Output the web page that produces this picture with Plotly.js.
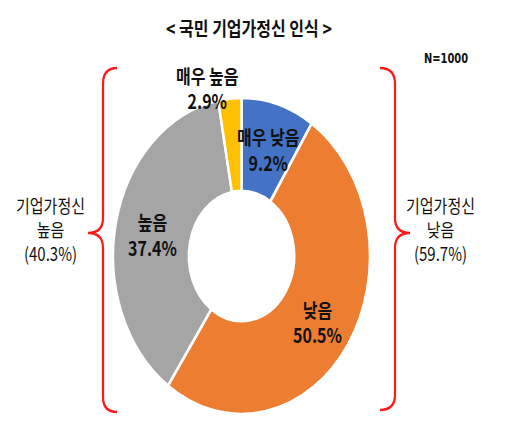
<!DOCTYPE html>
<html>
<head>
<meta charset="utf-8">
<script src="https://cdn.plot.ly/plotly-3.0.1.min.js"></script>
<style>
html, body { margin: 0; padding: 0; background: #fff; width: 506px; height: 437px; }
#wrap { width: 506px; height: 437px; overflow: hidden; position: relative; }
#chart { width: 506px; height: 355px; transform: scaleY(1.231); transform-origin: 0 0; position: absolute; left: 0; top: 0; }
</style>
</head>
<body>
<div id="wrap"><div id="chart"></div></div>
<script>
// ---- data ----
const categories = ["매우 낮음", "낮음", "높음", "매우 높음"];
const values = [9.2, 50.5, 37.4, 2.9];
const colors = ["#4472C4", "#ED7D31", "#A5A5A5", "#FFC000"];
const titleText = "< 국민 기업가정신 인식 >";
const sampleText = "N=1000";
const groupLabels = ["기업가정신", "기업가정신"];
const groupNames = ["높음", "낮음"];
const groupValues = [40.3, 59.7];

// ---- layout helpers (pixel -> paper, unstretched) ----
const W = 506, H = 355, S = 1.231;
const px = x => x / W;
const py = y => 1 - (y / S) / H;

const font = "'Noto Sans CJK KR', 'Noto Sans', sans-serif";

// label centres for slices in reference px
const slicePos = [[268, 150], [317, 322], [152, 235], [207, 88]];

const annotations = [];
categories.forEach((c, i) => {
  const p = slicePos[i];
  annotations.push({xref: 'paper', yref: 'paper', x: px(p[0]), y: py(p[1]),
    text: '<b>' + c + '<br>' + values[i].toFixed(1) + '%</b>',
    showarrow: false, xanchor: 'center', yanchor: 'middle', borderpad: 0,
    font: {family: font, size: 16, color: '#111'}});
});
const groupX = [50, 440];
groupLabels.forEach((g, i) => {
  annotations.push({xref: 'paper', yref: 'paper', x: px(groupX[i]), y: py(229),
    text: g + '<br>' + groupNames[i] + '<br>(' + groupValues[i].toFixed(1) + '%)',
    showarrow: false, xanchor: 'center', yanchor: 'middle', borderpad: 0,
    font: {family: font, size: 15, color: '#111'}});
});
annotations.push({xref: 'paper', yref: 'paper', x: px(249), y: py(27), text: '<b>' + titleText + '</b>',
  showarrow: false, xanchor: 'center', yanchor: 'middle', font: {family: font, size: 16, color: '#111'}});
annotations.push({xref: 'paper', yref: 'paper', x: px(446), y: py(59), text: '<b>' + sampleText + '</b>',
  showarrow: false, xanchor: 'center', yanchor: 'middle', font: {family: "'DejaVu Sans Condensed', 'DejaVu Sans', sans-serif", size: 11, color: '#111'}});

function P(x, y) { return px(x).toFixed(5) + ',' + py(y).toFixed(5); }
const leftBrace = 'M' + P(117, 68) + ' Q' + P(103, 68) + ' ' + P(103, 84) + ' L' + P(103, 218) +
  ' Q' + P(103, 233) + ' ' + P(88, 233) + ' Q' + P(103, 233) + ' ' + P(103, 248) +
  ' L' + P(103, 397) + ' Q' + P(103, 412) + ' ' + P(117, 412);
const rightBrace = 'M' + P(380, 68) + ' Q' + P(395, 68) + ' ' + P(395, 84) + ' L' + P(395, 218) +
  ' Q' + P(395, 233) + ' ' + P(410, 233) + ' Q' + P(395, 233) + ' ' + P(395, 248) +
  ' L' + P(395, 395) + ' Q' + P(395, 410) + ' ' + P(380, 410);

const shapes = [leftBrace, rightBrace].map(p => ({
  type: 'path', xref: 'paper', yref: 'paper', path: p, line: {color: '#FF1A1A', width: 2.2}
}));

// pie domain: center (241.5, 256) ref px, radius 128.5 px horizontally
const cx = 241.5, cyU = 256 / S, r = 128.5;
const trace = {
  type: 'pie',
  labels: categories,
  values: values,
  sort: false,
  direction: 'clockwise',
  rotation: 0,
  hole: 0.41,
  textinfo: 'none',
  hoverinfo: 'none',
  showlegend: false,
  marker: {colors: colors, line: {color: '#ffffff', width: 2.5}},
  domain: {x: [(cx - r) / W, (cx + r) / W], y: [(H - cyU - r) / H, (H - cyU + r) / H]}
};

Plotly.newPlot('chart', [trace], {
  width: W, height: H,
  margin: {l: 0, r: 0, t: 0, b: 0},
  paper_bgcolor: '#fff', plot_bgcolor: '#fff',
  annotations: annotations,
  shapes: shapes
}, {staticPlot: true});
</script>
</body>
</html>
